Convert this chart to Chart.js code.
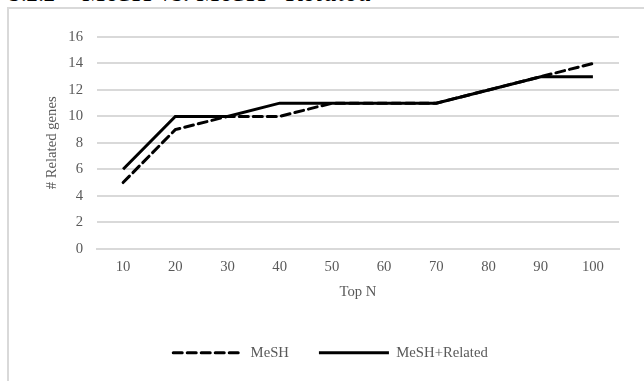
<!DOCTYPE html>
<html>
<head>
<meta charset="utf-8">
<script src="https://cdn.jsdelivr.net/npm/chart.js@4.4.1/dist/chart.umd.min.js"></script>
<style>
  html, body { margin: 0; padding: 0; background: #fff; overflow: hidden; }
  #wrap { position: relative; width: 644px; height: 381px; overflow: hidden; }
  #frame { position: absolute; left: 7px; top: 7px; width: 700px; height: 420px; border-left: 2px solid #d9d9d9; border-top: 2px solid #d9d9d9; box-sizing: border-box; }
  .heading { position: absolute; font-style: italic; font-family: "Liberation Serif", serif; line-height: 26px; color: #000; white-space: nowrap; }
  #h1 { left: 10px; top: -19px; font-size: 23px; }
  #h2 { left: 83px; top: -21px; font-size: 28px; }
  #c { position: absolute; left: 0; top: 0; }
</style>
</head>
<body>
<div id="wrap">
  <div class="heading" id="h1">3.2.2</div>
  <div class="heading" id="h2">MeSH vs. MeSH+Related</div>
  <div id="frame"></div>
  <canvas id="c" width="644" height="381"></canvas>
</div>
<script>
const categories = ["10", "20", "30", "40", "50", "60", "70", "80", "90", "100"];
const meshValues = [5, 9, 10, 10, 11, 11, 11, 12, 13, 14];
const meshRelatedValues = [6, 10, 10, 11, 11, 11, 11, 12, 13, 13];
const seriesNames = ["MeSH", "MeSH+Related"];
const yTicks = [0, 2, 4, 6, 8, 10, 12, 14, 16];

const serif = "'Liberation Serif', 'Times New Roman', serif";
const grey = "#595959";
const fs = 14.7;

new Chart(document.getElementById("c"), {
  type: "line",
  data: {
    labels: categories,
    datasets: [
      {
        label: seriesNames[0],
        data: meshValues,
        borderColor: "#000",
        backgroundColor: "#000",
        borderWidth: 3,
        borderDash: [9, 5],
        borderCapStyle: "round",
        pointRadius: 0,
        tension: 0
      },
      {
        label: seriesNames[1],
        data: meshRelatedValues,
        borderColor: "#000",
        backgroundColor: "#000",
        borderWidth: 3,
        borderCapStyle: "butt",
        pointRadius: 0,
        tension: 0
      }
    ]
  },
  options: {
    responsive: false,
    animation: false,
    devicePixelRatio: 1,
    layout: { padding: { left: 42, right: 25, top: 37, bottom: 11 } },
    plugins: {
      tooltip: { enabled: false },
      legend: {
        position: "bottom",
        labels: {
          usePointStyle: true,
          pointStyle: "line",
          pointStyleWidth: 70,
          boxWidth: 70,
          boxHeight: fs,
          padding: 30,
          color: grey,
          font: { family: serif, size: fs },
          generateLabels: (chart) => {
            const items = Chart.defaults.plugins.legend.labels.generateLabels(chart);
            items.forEach((it) => {
              const ds = chart.data.datasets[it.datasetIndex];
              it.lineDash = ds.borderDash || [];
              it.lineCap = ds.borderCapStyle || "butt";
              it.lineWidth = ds.borderWidth;
              it.strokeStyle = ds.borderColor;
              it.fillStyle = ds.borderColor;
              it.fontColor = grey;
            });
            return items;
          }
        }
      }
    },
    scales: {
      x: {
        offset: true,
        grid: { display: false, drawTicks: false },
        border: { display: true, color: "#d9d9d9", width: 2 },
        ticks: { color: grey, padding: 10, font: { family: serif, size: fs }, maxRotation: 0 },
        title: { display: true, text: "Top N", color: grey, font: { family: serif, size: fs }, padding: { top: 0, bottom: 14 } },
        afterFit: (s) => { s.height = 66.6; }
      },
      y: {
        min: 0,
        max: 16,
        afterBuildTicks: (s) => { s.ticks = yTicks.map(v => ({ value: v })); },
        grid: { color: "#d9d9d9", lineWidth: 2, drawTicks: false },
        border: { display: false },
        ticks: { color: grey, padding: 14, font: { family: serif, size: fs } },
        title: { display: true, text: "# Related genes", color: grey, font: { family: serif, size: fs }, padding: { top: 1, bottom: 0 } },
        afterFit: (s) => { s.width = 55; }
      }
    }
  }
});
</script>
</body>
</html>
